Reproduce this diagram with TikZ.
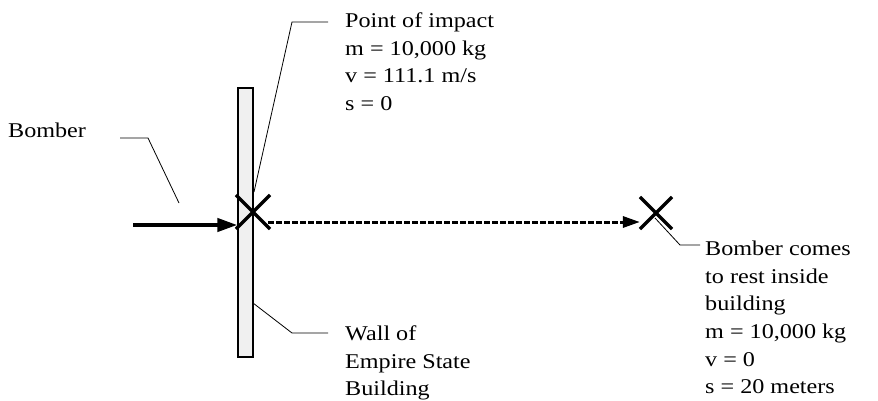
\documentclass[tikz,border=0pt]{standalone}
\usepackage{fontspec}
\setmainfont[FakeStretch=1.15]{Liberation Serif}
\usetikzlibrary{positioning,arrows.meta,shapes.misc}

\begin{document}
\begin{tikzpicture}[x=1pt, y=-1pt,
    lbl/.style={align=left, inner sep=0pt, anchor=north west,
                font=\fontsize{21}{27.7}\selectfont},
    hit/.style={draw, cross out, minimum size=31pt, inner sep=0pt,
                line width=3.2pt},
    lead/.style={line width=0.8pt},
    arr/.style={-{Triangle[length=20pt, width=13pt]}, line width=4pt},
    darr/.style={-{Triangle[length=17pt, width=11pt]}, line width=3pt,
                 dash pattern=on 6pt off 2pt}]
  \useasboundingbox (0,0) rectangle (878,401);
  \node[draw, fill=gray!12, line width=1.2pt, minimum width=15pt,
        minimum height=269pt, inner sep=0pt] (wall) at (245.5,222.5) {};
  \node[hit] (impact) at (253,212) {};
  \node[hit, minimum size=29pt] (rest) at (656,213) {};
  % labels
  \node[anchor=base west, inner sep=0pt, font=\fontsize{21}{27.7}\selectfont]
    (bomberlbl) at (8,138) {Bomber};
  \node[lbl] (impactlbl) at (345,12.6) {Point of impact\\m = 10,000 kg\\v = 111.1 m/s\\s = 0};
  \node[lbl] (walllbl) at (345,325.6) {Wall of\\Empire State\\Building};
  \node[lbl] (restlbl) at (705,240.6) {Bomber comes\\to rest inside\\building\\m = 10,000 kg\\v = 0\\s = 20 meters};
  % arrows
  \coordinate (bomberstart) at (133,225);
  \draw[arr] (bomberstart) -- (bomberstart -| wall.west);
  \coordinate (slidestart) at (268,222);
  \draw[darr] (slidestart) -- (slidestart -| rest.west);
  % leaders
  \coordinate (bomberpt) at (179,203);
  \draw[lead] (120,138) -- (148,138) -- (bomberpt);
  \coordinate (impactpt) at (254,192);
  \draw[lead] (impactpt) -- (292,22) -- (328,22);
  \coordinate (wallpt) at (253,303);
  \draw[lead] (wallpt) -- (292,333) -- (328,333);
  \coordinate (restpt) at (655,218);
  \draw[lead] (restpt) -- (680,245) -- (700,245);
\end{tikzpicture}
\end{document}
